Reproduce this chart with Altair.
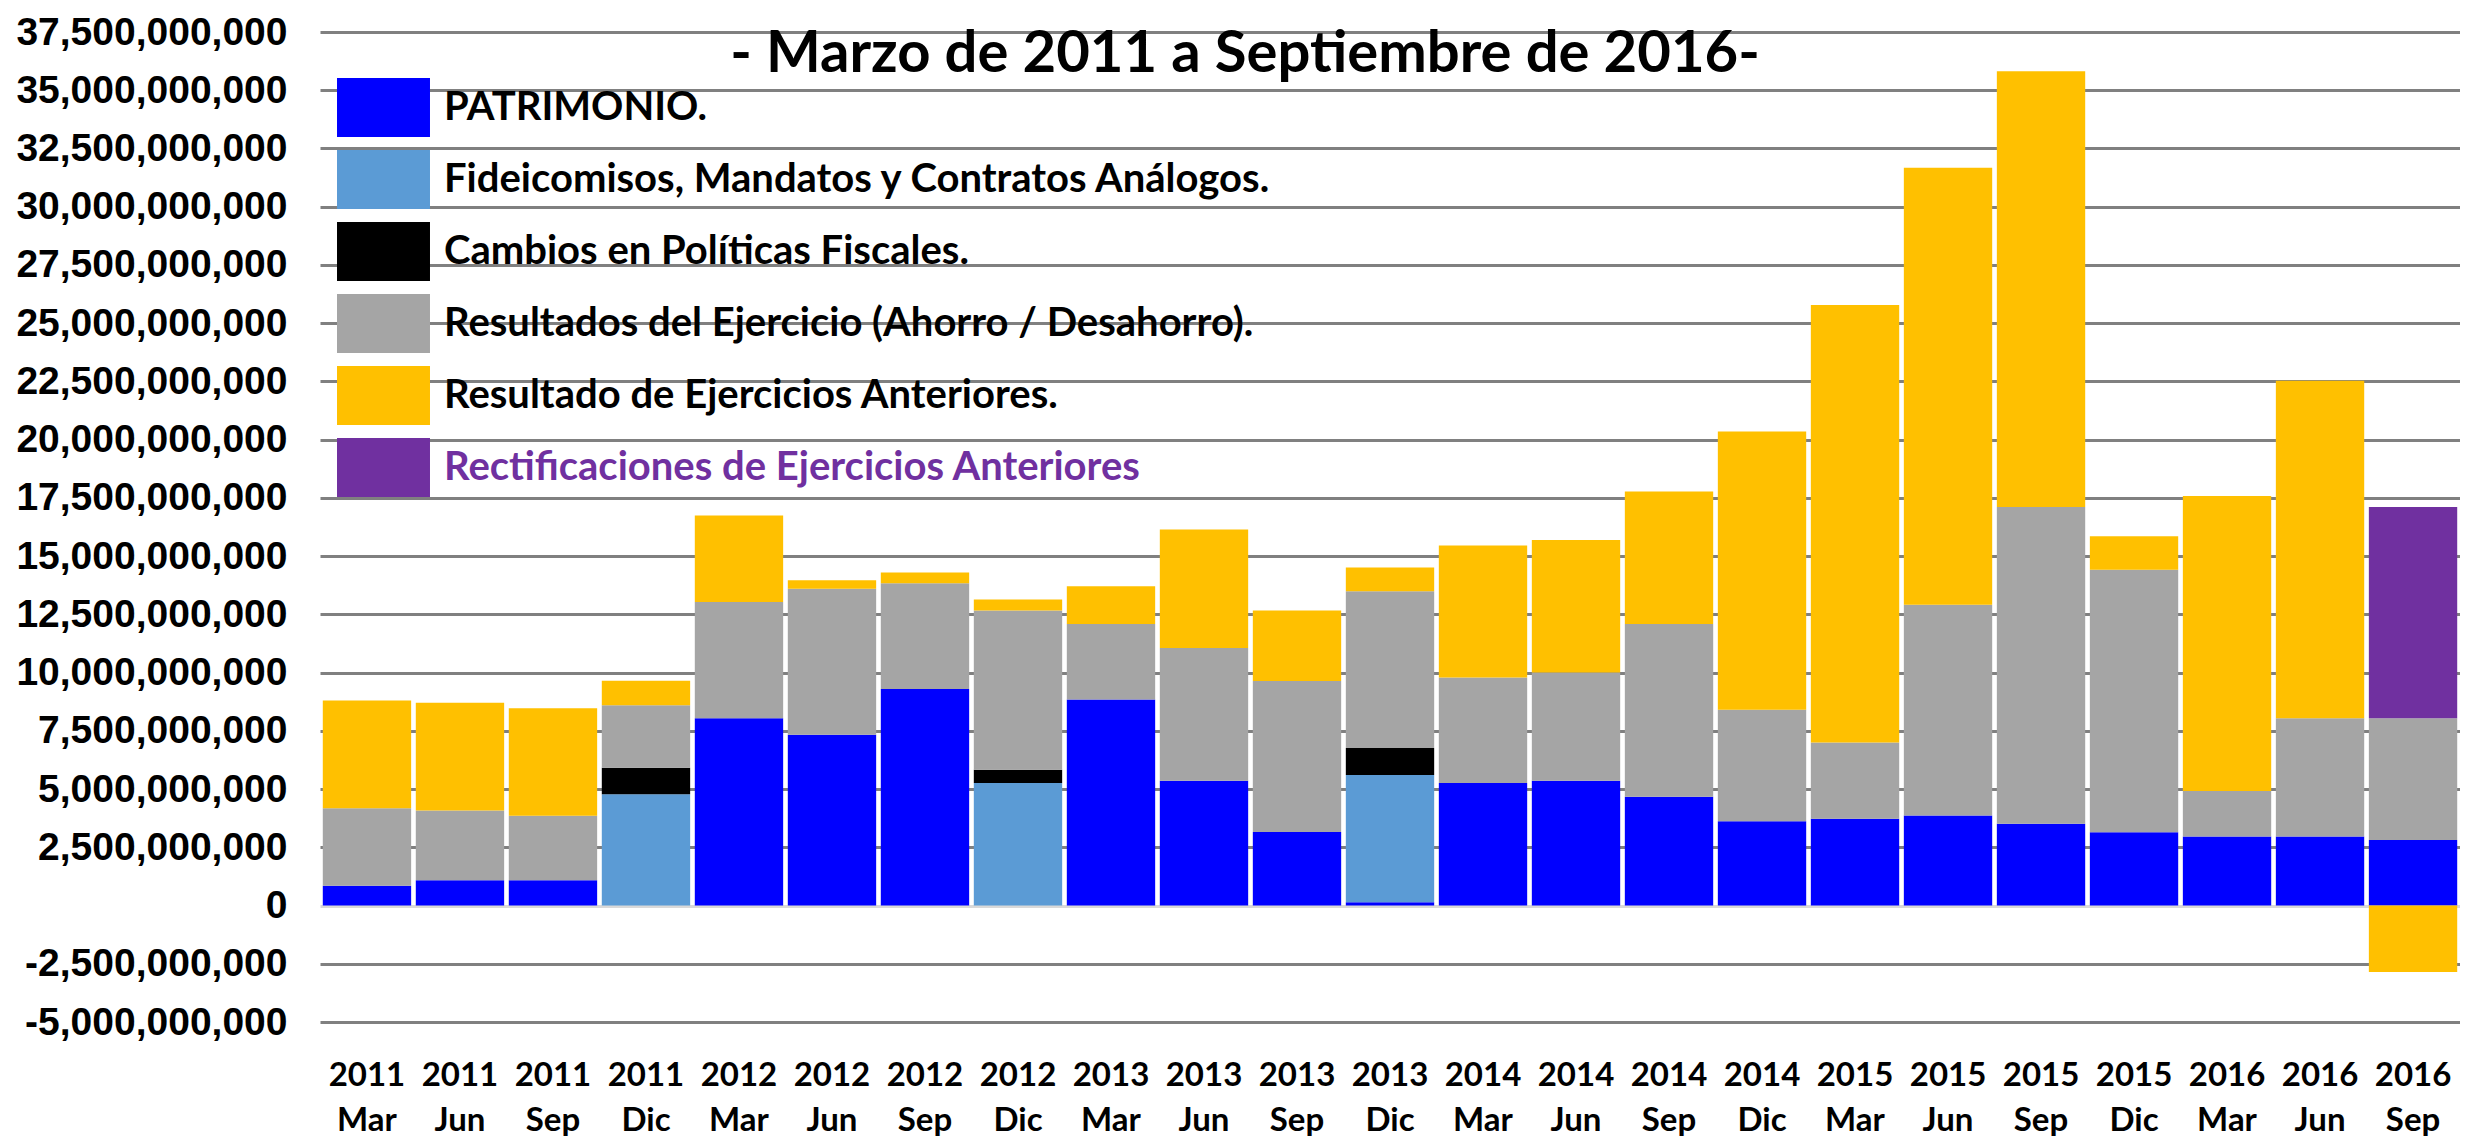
import altair as alt
import pandas as pd

categories = ["2011 Mar", "2011 Jun", "2011 Sep", "2011 Dic",
              "2012 Mar", "2012 Jun", "2012 Sep", "2012 Dic",
              "2013 Mar", "2013 Jun", "2013 Sep", "2013 Dic",
              "2014 Mar", "2014 Jun", "2014 Sep", "2014 Dic",
              "2015 Mar", "2015 Jun", "2015 Sep", "2015 Dic",
              "2016 Mar", "2016 Jun", "2016 Sep"]

series_names = ["PATRIMONIO.",
                "Fideicomisos, Mandatos y Contratos Análogos.",
                "Cambios en Políticas Fiscales.",
                "Resultados del Ejercicio (Ahorro / Desahorro).",
                "Resultado de Ejercicios Anteriores.",
                "Rectificaciones de Ejercicios Anteriores"]
colors = ["#0000FF", "#5B9BD5", "#000000", "#A5A5A5", "#FFC000", "#7030A0"]

# values in billions (miles de millones)
patrimonio = [0.85, 1.08, 1.08, 0, 8.04, 7.33, 9.30, 0, 8.84, 5.36, 3.16, 0.14,
              5.26, 5.36, 4.67, 3.62, 3.73, 3.87, 3.51, 3.15, 2.96, 2.96, 2.81]
fideicomisos = [0, 0, 0, 4.78, 0, 0, 0, 5.26, 0, 0, 0, 5.46,
                0, 0, 0, 0, 0, 0, 0, 0, 0, 0, 0]
cambios = [0, 0, 0, 1.14, 0, 0, 0, 0.57, 0, 0, 0, 1.16,
           0, 0, 0, 0, 0, 0, 0, 0, 0, 0, 0]
resultados = [3.33, 3.00, 2.77, 2.68, 4.99, 6.27, 4.53, 6.84, 3.25, 5.70, 6.48, 6.73,
              4.53, 4.64, 7.42, 4.78, 3.27, 9.04, 13.60, 11.27, 1.96, 5.08, 5.23]
anteriores = [4.62, 4.62, 4.62, 1.05, 3.71, 0.36, 0.47, 0.47, 1.62, 5.08, 3.03, 1.02,
              5.67, 5.69, 5.68, 11.95, 18.78, 18.76, 18.71, 1.43, 12.66, 14.49, -2.85]
rectificaciones = [0, 0, 0, 0, 0, 0, 0, 0, 0, 0, 0, 0,
                   0, 0, 0, 0, 0, 0, 0, 0, 0, 0, 9.07]

y_ticks = [-5e9 + 2.5e9 * i for i in range(18)]
title_text = "- Marzo de 2011 a Septiembre de 2016-"

all_series = [patrimonio, fideicomisos, cambios, resultados, anteriores, rectificaciones]
rows = []
for k, (name, vals) in enumerate(zip(series_names, all_series)):
    for cat, v in zip(categories, vals):
        if v != 0:
            rows.append({"cat": cat, "series": name, "ord": k, "value": v * 1e9})
df = pd.DataFrame(rows)

bars = alt.Chart(df).mark_bar().encode(
    x=alt.X("cat:N", sort=categories,
            scale=alt.Scale(paddingInner=0.05, paddingOuter=0.03),
            axis=alt.Axis(title=None, labelExpr="split(datum.label, ' ')",
                          labelFont="Lato", labelFontWeight="bold", labelFontSize=33,
                          labelColor="black", labelLineHeight=45, labelPadding=37,
                          labelBaseline="top", ticks=False, domain=False, labelAngle=0,
                          labelLimit=0)),
    y=alt.Y("value:Q", stack="zero",
            scale=alt.Scale(domain=[-5e9, 37.5e9], nice=False, zero=False),
            axis=alt.Axis(title=None, values=y_ticks,
                          labelExpr="replace(format(datum.value, ',.0f'), '\u2212', '-')",
                          grid=True,
                          gridColor={"condition": {"test": "datum.value == 0", "value": "#D9D9D9"},
                                     "value": "#808080"},
                          gridWidth=3, domain=False, ticks=False,
                          labelFont="Liberation Sans", labelFontWeight="bold",
                          labelFontSize=39, labelColor="black", labelPadding=33,
                          labelLimit=0)),
    color=alt.Color("series:N",
                    scale=alt.Scale(domain=series_names, range=colors),
                    legend=alt.Legend(title=None, orient="none", legendX=34, legendY=46,
                                      symbolType="M-1.576,-1L1.576,-1L1.576,1L-1.576,1Z",
                                      symbolSize=3481, symbolStrokeWidth=0, symbolOpacity=1,
                                      labelFont="Lato", labelFontWeight="bold", labelFontSize=40,
                                      labelColor=alt.ExprRef("datum.label == 'Rectificaciones de Ejercicios Anteriores' ? '#7030A0' : '#000000'"),
                                      labelOffset=31, rowPadding=13, labelLimit=0, padding=0)),
    order=alt.Order("ord:Q"),
)

title = alt.Chart(pd.DataFrame({"t": [title_text]})).mark_text(
    font="Lato", fontWeight="bold", fontSize=58, align="center", baseline="middle",
    color="black").encode(x=alt.value(925), y=alt.value(23), text="t:N")

chart = alt.layer(bars, title).properties(
    width=2140, height=990,
    autosize=alt.AutoSizeParams(type="none"),
    padding={"left": 312, "top": 24, "right": 0, "bottom": 118},
    background="white",
).configure_view(stroke=None)

chart.save("out.html", embed_options={"renderer": "svg", "actions": False})
